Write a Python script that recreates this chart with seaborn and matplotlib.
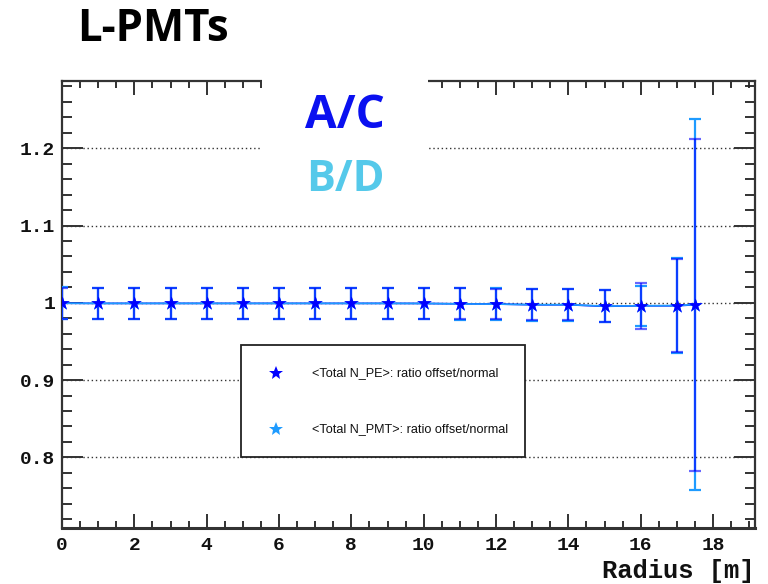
import numpy as np
import pandas as pd
import matplotlib
matplotlib.use("Agg")
import matplotlib.pyplot as plt
from matplotlib.patches import Rectangle
from matplotlib.lines import Line2D
from matplotlib.ticker import MultipleLocator, FuncFormatter
import seaborn as sns

# Radius of the event positions [m]
radius = [0, 1, 2, 3, 4, 5, 6, 7, 8, 9, 10, 11, 12, 13, 14, 15, 16, 17, 17.5]

# <Total N_PE>: ratio offset/normal (A/C)
ratio_pe = [0.9995, 0.9993, 0.9993, 0.9993, 0.9993, 0.9993, 0.9993, 0.9993, 0.9993,
            0.9993, 0.9992, 0.9988, 0.9985, 0.9975, 0.9975, 0.9955, 0.9962, 0.9962, 0.9975]
err_pe = [0.020, 0.020, 0.020, 0.020, 0.020, 0.020, 0.020, 0.020, 0.020,
          0.020, 0.020, 0.020, 0.020, 0.020, 0.020, 0.0205, 0.030, 0.060, 0.215]

# <Total N_PMT>: ratio offset/normal (B/D)
ratio_pmt = [0.9995, 0.9993, 0.9993, 0.9993, 0.9993, 0.9993, 0.9993, 0.9993, 0.9993,
             0.9993, 0.9992, 0.9986, 0.9984, 0.9976, 0.9976, 0.9958, 0.9962, 0.9965, 0.9978]
err_pmt = [0.0205, 0.0205, 0.0205, 0.0205, 0.0205, 0.0205, 0.0205, 0.0205, 0.0205,
           0.0205, 0.0205, 0.0205, 0.0205, 0.0205, 0.0205, 0.021, 0.026, 0.062, 0.240]

legend_labels = ["<Total N_PE>: ratio offset/normal", "<Total N_PMT>: ratio offset/normal"]

df = pd.DataFrame({"radius": radius * 2,
                   "ratio": ratio_pe + ratio_pmt,
                   "series": [legend_labels[0]] * len(radius) + [legend_labels[1]] * len(radius)})

DARK = "#0000ff"
LIGHT = "#1e9bff"

sns.set_theme(style="white")
plt.rcParams["font.family"] = ["Liberation Sans", "DejaVu Sans"]

fig = plt.figure(figsize=(7.68, 5.84), dpi=100)
ax = fig.add_axes([62 / 768, 1 - 527.7 / 584, (755 - 62) / 768, (527.7 - 80.7) / 584])

# error bars: N_PMT underneath, N_PE on top
ax.errorbar(radius, ratio_pmt, yerr=err_pmt, fmt="none", ecolor=LIGHT, elinewidth=1.6,
            capsize=4, capthick=1.6, zorder=3)
ax.errorbar(radius, ratio_pe, yerr=err_pe, fmt="none", ecolor=DARK, alpha=0.6, elinewidth=1.6,
            capsize=4, capthick=1.6, zorder=4)

sns.lineplot(data=df, x="radius", y="ratio", hue="series", palette=[DARK, LIGHT],
             hue_order=legend_labels, linewidth=1.2, legend=False, ax=ax, zorder=5,
             estimator=None, sort=True)
sns.scatterplot(data=df[df.series == legend_labels[1]], x="radius", y="ratio", color=LIGHT,
                marker="*", s=120, linewidth=0, legend=False, ax=ax, zorder=6)
sns.scatterplot(data=df[df.series == legend_labels[0]], x="radius", y="ratio", color=DARK,
                marker="*", s=120, linewidth=0, legend=False, ax=ax, zorder=7)

ax.set_xlim(0, 19.16)
ax.set_ylim(0.709, 1.2875)

# dotted horizontal grid at the major y ticks
for yv in [0.8, 0.9, 1.0, 1.1, 1.2]:
    ax.axhline(yv, color="#333333", lw=1.0, ls=(0, (1, 2)), zorder=2)

ax.xaxis.set_major_locator(MultipleLocator(2))
ax.xaxis.set_minor_locator(MultipleLocator(0.5))
ax.yaxis.set_major_locator(MultipleLocator(0.1))
ax.yaxis.set_minor_locator(MultipleLocator(0.02))
ax.yaxis.set_major_formatter(FuncFormatter(lambda v, p: f"{v:g}"))
ax.xaxis.set_major_formatter(FuncFormatter(lambda v, p: f"{v:g}"))

ax.tick_params(axis="both", which="both", direction="in", top=True, right=True,
               bottom=True, left=True, color="#222222", width=1.3)
ax.tick_params(axis="y", which="major", length=15, pad=5)
ax.tick_params(axis="y", which="minor", length=7.5)
ax.tick_params(axis="x", which="major", length=10, pad=7)
ax.tick_params(axis="x", which="minor", length=5)
for lab in ax.get_xticklabels() + ax.get_yticklabels():
    lab.set_fontfamily("Liberation Mono")
    lab.set_fontweight("bold")
    lab.set_fontsize(14)
    lab.set_color("#111111")

for s in ax.spines.values():
    s.set_color("#333333")
    s.set_linewidth(1.6)
ax.spines["bottom"].set_linewidth(2.2)

ax.set_xlabel("")
ax.set_ylabel("")
fig.text(755 / 768, 1 - 578 / 584, "Radius [m]", ha="right", va="baseline",
         fontfamily="Liberation Mono", fontweight="bold", fontsize=18.4, color="#111111")

# legend box
lx0, lx1, ly0, ly1 = 241, 525, 345, 457
fig.add_artist(Rectangle((lx0 / 768, 1 - ly1 / 584), (lx1 - lx0) / 768, (ly1 - ly0) / 584,
                         transform=fig.transFigure, facecolor="white", edgecolor="#222222",
                         lw=1.3, zorder=10))
for (my, col, lab) in [(373, DARK, legend_labels[0]), (429, LIGHT, legend_labels[1])]:
    fig.add_artist(Line2D([276 / 768], [1 - my / 584], transform=fig.transFigure, marker="*",
                          markersize=10, color=col, markeredgewidth=0, zorder=11))
    fig.text(312 / 768, 1 - my / 584, lab, ha="left", va="center", fontsize=9.1,
             color="#111111", zorder=11)

# white panel with the channel labels
fig.add_artist(Rectangle((262 / 768, 1 - 205 / 584), (428 - 262) / 768, (205 - 62) / 584,
                         transform=fig.transFigure, facecolor="white", edgecolor="none",
                         zorder=10))
fig.text(345 / 768, 1 - 128 / 584, "A/C", ha="center", va="baseline", fontfamily="Open Sans",
         fontweight="bold", fontsize=33, color="#0a10f0", zorder=11)
fig.text(345 / 768, 1 - 191 / 584, "B/D", ha="center", va="baseline", fontfamily="Open Sans",
         fontweight="bold", fontsize=31, color="#55c9ea", zorder=11)

fig.text(77 / 768, 1 - 41 / 584, "L-PMTs", ha="left", va="baseline", fontfamily="Open Sans",
         fontweight="bold", fontsize=31.5, color="black")

fig.savefig("out.png", dpi=100)
